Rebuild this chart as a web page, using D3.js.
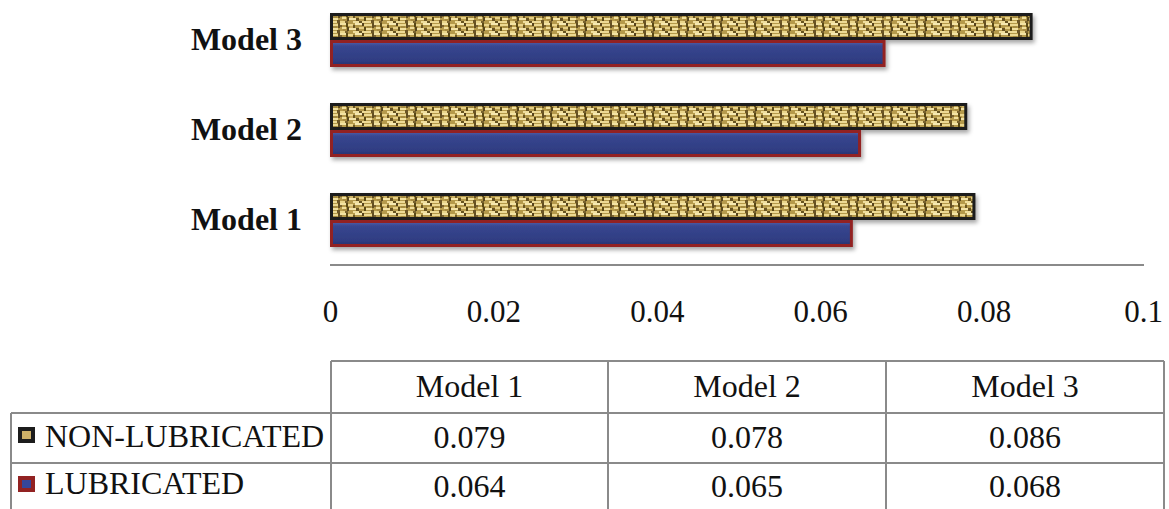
<!DOCTYPE html>
<html>
<head>
<meta charset="utf-8">
<script src="https://cdn.jsdelivr.net/npm/d3@7/dist/d3.min.js"></script>
<style>
  html, body { margin: 0; padding: 0; background: #fff; }
  svg { display: block; font-family: "Liberation Serif", "Times New Roman", serif; }
</style>
</head>
<body>
<svg id="chart" width="1169" height="509"></svg>
<script>
// Friction coefficient per model, with and without lubrication
const categories = ["Model 1", "Model 2", "Model 3"];
const seriesNames = ["NON-LUBRICATED", "LUBRICATED"];
const nonLubricated = [0.079, 0.078, 0.086];
const lubricated = [0.064, 0.065, 0.068];
const xTicks = [0, 0.02, 0.04, 0.06, 0.08, 0.1];
const xTickLabels = ["0", "0.02", "0.04", "0.06", "0.08", "0.1"];

const svg = d3.select("#chart");
const defs = svg.append("defs");

// Woven burlap texture for the non-lubricated bars
const weave = defs.append("pattern")
  .attr("id", "weave")
  .attr("patternUnits", "userSpaceOnUse")
  .attr("width", 34).attr("height", 10);
weave.append("rect").attr("width", 34).attr("height", 10).attr("fill", "#b59a4c");
[
  // light threads
  [0, 0, 6, 2, "#f3e3a4"], [8, 1, 5, 2, "#ead58c"], [15, 0, 7, 2, "#f6e9b2"],
  [24, 1, 8, 2, "#ecd992"], [2, 4, 4, 2, "#f1df9c"], [9, 5, 7, 2, "#f4e4a8"],
  [19, 4, 5, 2, "#e6cf84"], [26, 5, 6, 2, "#f1e09f"], [0, 8, 5, 2, "#e9d58b"],
  [13, 8, 6, 2, "#f0de9c"], [22, 8, 9, 2, "#edda95"],
  // dark gaps
  [6, 0, 2, 4, "#5a4818"], [13, 2, 2, 3, "#6b5622"], [22, 0, 2, 3, "#54431a"],
  [32, 0, 2, 5, "#645024"], [0, 2, 2, 2, "#7a6430"], [7, 4, 2, 4, "#58461a"],
  [16, 5, 3, 3, "#685322"], [24, 4, 2, 4, "#5a4819"], [5, 8, 3, 2, "#78622d"],
  [19, 8, 3, 2, "#685423"], [31, 7, 3, 3, "#6c5725"],
  // mid tones
  [3, 6, 4, 2, "#a88c42"], [10, 3, 3, 2, "#cdb366"], [27, 3, 4, 2, "#a48a40"]
].forEach(([x, y, w, h, c]) => {
  weave.append("rect").attr("x", x).attr("y", y).attr("width", w).attr("height", h).attr("fill", c);
});

// Glossy blue fill for the lubricated bars
const blue = defs.append("linearGradient")
  .attr("id", "blueFill").attr("x1", 0).attr("y1", 0).attr("x2", 0).attr("y2", 1);
blue.append("stop").attr("offset", "0").attr("stop-color", "#5262aa");
blue.append("stop").attr("offset", "0.2").attr("stop-color", "#37468f");
blue.append("stop").attr("offset", "0.8").attr("stop-color", "#2f3d82");
blue.append("stop").attr("offset", "1").attr("stop-color", "#26326c");

// Soft drop shadow under the bars
const shadow = defs.append("filter").attr("id", "shadow")
  .attr("x", "-5%").attr("y", "-30%").attr("width", "110%").attr("height", "170%");
shadow.append("feDropShadow")
  .attr("dx", 2).attr("dy", 3).attr("stdDeviation", 2)
  .attr("flood-color", "#000").attr("flood-opacity", 0.35);

// Scales
const x = d3.scaleLinear().domain([0, 0.1]).range([330, 1147]);
const y = d3.scaleBand()
  .domain(categories.slice().reverse())
  .range([-5, 265])
  .paddingInner(0.4)
  .paddingOuter(0.2);
const ySub = d3.scaleBand().domain(seriesNames).range([0, y.bandwidth()]);

const rows = categories.map((c, i) => ({
  category: c,
  values: [
    { series: seriesNames[0], value: nonLubricated[i] },
    { series: seriesNames[1], value: lubricated[i] }
  ]
}));

const styles = {
  "NON-LUBRICATED": { fill: "url(#weave)", stroke: "#1c1c1c", key: "#cdb068" },
  "LUBRICATED": { fill: "url(#blueFill)", stroke: "#922222", key: "#36469a" }
};

// Bars
const groups = svg.append("g").selectAll("g.cat")
  .data(rows).join("g")
  .attr("class", "cat")
  .attr("transform", d => `translate(0,${y(d.category)})`);

groups.append("g").attr("filter", "url(#shadow)")
  .selectAll("rect")
  .data(d => d.values.slice().reverse())
  .join("rect")
  .attr("x", x(0) + 1.5)
  .attr("y", d => ySub(d.series) + 1.5)
  .attr("width", d => x(d.value) - x(0) - 3)
  .attr("height", ySub.bandwidth() - 3)
  .attr("fill", d => styles[d.series].fill)
  .attr("stroke", d => styles[d.series].stroke)
  .attr("stroke-width", 3);

// Category labels
svg.append("g").selectAll("text")
  .data(categories)
  .join("text")
  .attr("x", 302)
  .attr("y", d => y(d) + y.bandwidth() / 2 + 10)
  .attr("text-anchor", "end")
  .attr("font-weight", "bold")
  .attr("font-size", 32)
  .attr("fill", "#111")
  .text(d => d);

// Value axis
const axis = d3.axisBottom(x)
  .tickValues(xTicks)
  .tickFormat((d, i) => xTickLabels[i])
  .tickSize(0)
  .tickPadding(0);
const axisG = svg.append("g").attr("transform", "translate(0,265)").call(axis);
axisG.select(".domain").attr("d", `M${x(0)},0H1144`).attr("stroke", "#8a8a8a").attr("stroke-width", 2);
axisG.selectAll(".tick text")
  .attr("dy", 0)
  .attr("y", 57)
  .attr("font-family", "'Liberation Serif', 'Times New Roman', serif")
  .attr("font-size", 31)
  .attr("fill", "#111");
axisG.selectAll(".tick").filter(d => d === 0.1).select("text").attr("dx", -4);

// Data table
const colX = [11, 331, 608, 886, 1164];
const rowY = [361, 413, 463, 515];
const table = svg.append("g").attr("stroke", "#8a8a8a").attr("stroke-width", 2).attr("fill", "none");
// horizontal rules
table.append("line").attr("x1", colX[1]).attr("x2", colX[4]).attr("y1", rowY[0]).attr("y2", rowY[0]);
[rowY[1], rowY[2]].forEach(yy => table.append("line").attr("x1", colX[0]).attr("x2", colX[4]).attr("y1", yy).attr("y2", yy));
// vertical rules
table.append("line").attr("x1", colX[0]).attr("x2", colX[0]).attr("y1", rowY[1]).attr("y2", rowY[3]);
colX.slice(1).forEach(xx => table.append("line").attr("x1", xx).attr("x2", xx).attr("y1", rowY[0]).attr("y2", rowY[3]));

const cellCenter = i => (colX[i + 1] + colX[i + 2]) / 2;
const tableText = svg.append("g").attr("font-size", 32).attr("fill", "#111").attr("text-anchor", "middle");
tableText.selectAll("text.head").data(categories).join("text")
  .attr("class", "head")
  .attr("x", (d, i) => cellCenter(i)).attr("y", 397).text(d => d);
const fmt = d3.format(".3f");
[nonLubricated, lubricated].forEach((vals, r) => {
  tableText.selectAll(`text.r${r}`).data(vals).join("text")
    .attr("class", `r${r}`)
    .attr("x", (d, i) => cellCenter(i)).attr("y", [448, 497][r]).text(d => fmt(d));
});

// Legend keys inside the table
const legendY = [427, 476];
const legend = svg.append("g");
seriesNames.forEach((s, i) => {
  legend.append("rect")
    .attr("x", 20).attr("y", legendY[i] + 2)
    .attr("width", 13).attr("height", 12)
    .attr("fill", styles[s].key)
    .attr("stroke", styles[s].stroke).attr("stroke-width", 4);
  legend.append("text")
    .attr("x", 45).attr("y", [447, 494][i])
    .attr("font-size", 32).attr("fill", "#111")
    .text(s);
});
</script>
</body>
</html>
